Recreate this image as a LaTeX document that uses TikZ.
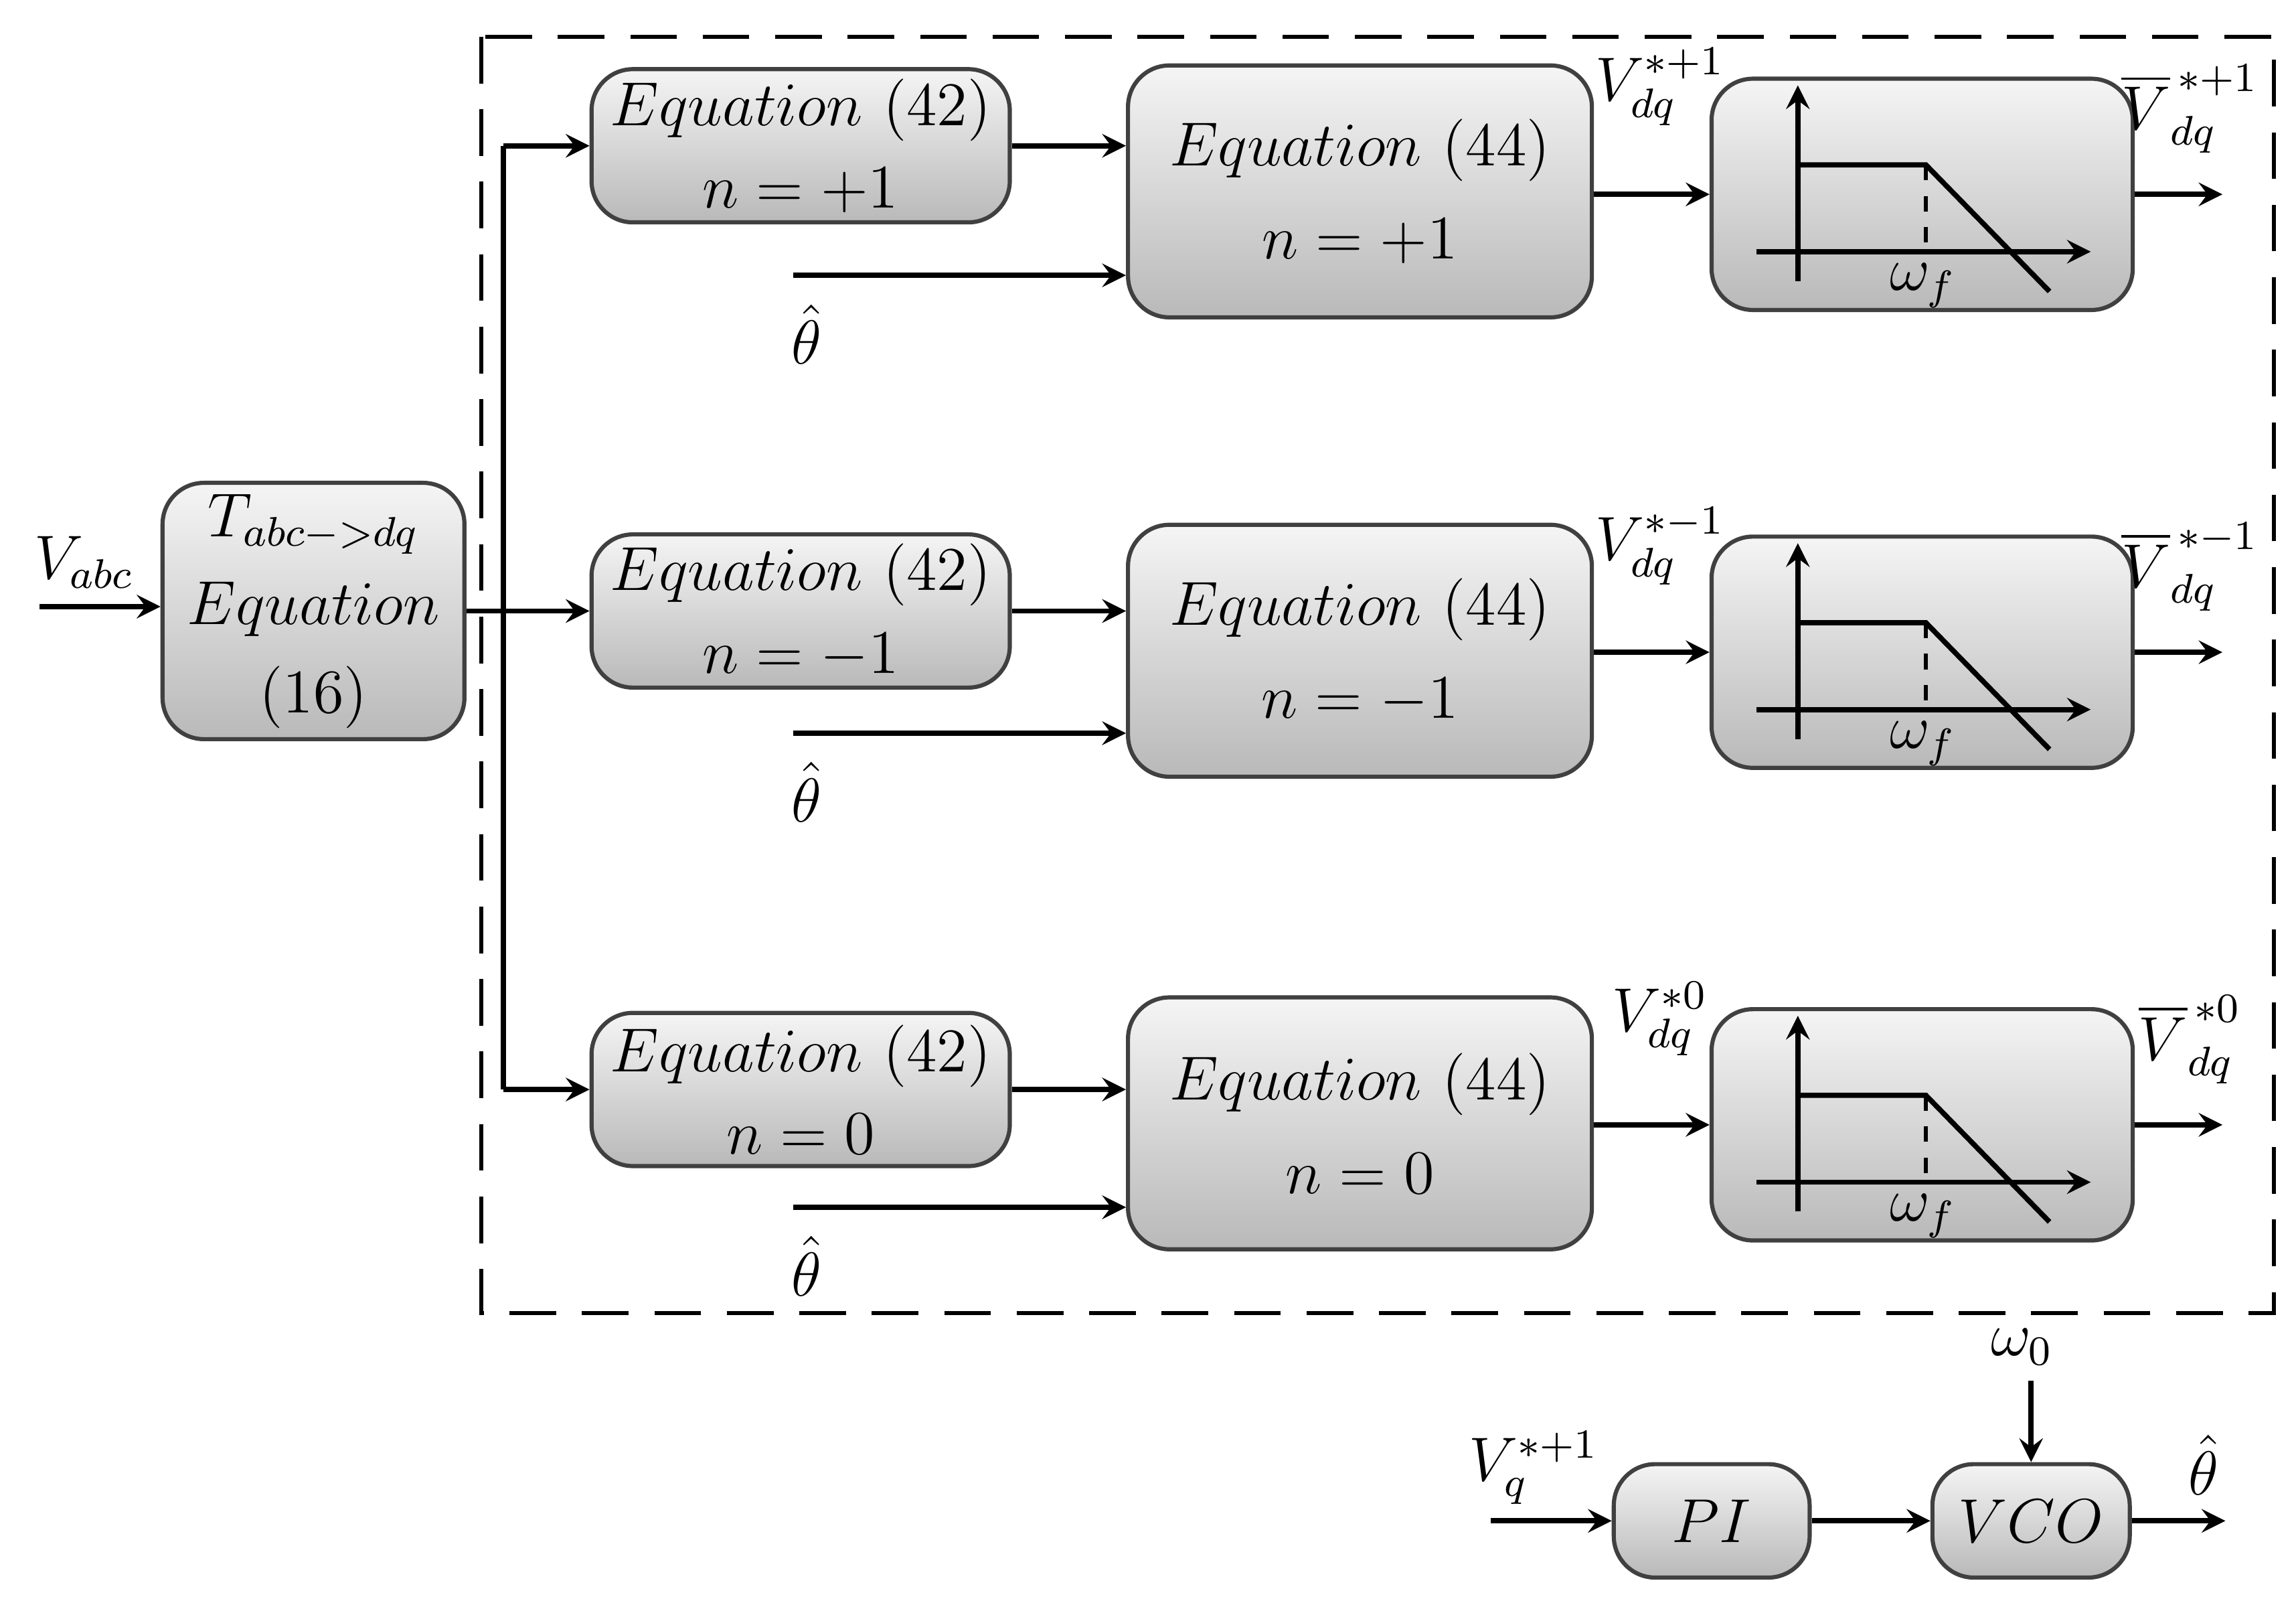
\documentclass[tikz,border=0pt]{standalone}
\usepackage{amsmath}
\usetikzlibrary{calc,positioning,arrows}
\begin{document}
\begin{tikzpicture}[x=0.01cm,y=-0.01cm,font=\large]

	\tikzstyle{block} = [rectangle, draw=gray!50!black, thick, rounded corners=8pt,
		top color=gray!8, bottom color=gray!55, align=center, inner sep=0pt]
	\tikzstyle{line} = [draw, ->, >=stealth, line width=1pt]

	\useasboundingbox (0,0) rectangle (1560,1087);

	% dashed frame
	\draw[thick, dashed, dash pattern=on 9pt off 5pt] (327,25) rectangle (1545,892);

	% transform block
	\node[block, minimum width=2.05cm, minimum height=1.74cm] (tabc) at (213,415)
		{$T_{abc->dq}$\\[3pt] $Equation$\\[3pt] $(16)$};
	\coordinate (vin) at (27,412);
	\draw[line] (vin) -- (tabc.west |- vin);
	\node at (57,382) {$V_{abc}$};
	\coordinate (split) at (342,415);
	\draw[line width=1pt] (tabc.east |- split) -- (split);

	% three branches
	\foreach \n/\lab/\ya/\yb/\yf/\yt/\sup in {1/+1/99/130/132/187/{*+1}, 2/-1/415/442/443/498/{*-1}, 3/0/740/763/764/820/{*0}} {
		\node[block, minimum width=2.84cm, minimum height=1.04cm] (eqa\n) at (544,\ya)
			{$Equation\ (42)$\\[2pt] $n=\lab$};
		\node[block, minimum width=3.15cm, minimum height=1.71cm] (eqb\n) at (924,\yb)
			{$Equation\ (44)$\\[4pt] $n=\lab$};
		\node[block, minimum width=2.86cm, minimum height=1.57cm] (flt\n) at (1306,\yf) {};
		\draw[line] (split |- eqa\n) -- (eqa\n.west);
		\draw[line] (eqa\n.east) -- (eqa\n.east -| eqb\n.west);
		\coordinate (th\n) at (539,\yt);
		\draw[line] (th\n) -- (th\n -| eqb\n.west);
		\node at ($(th\n)+(9,40)$) {$\hat{\theta}$};
		\draw[line] (eqb\n.east |- flt\n) -- (flt\n.west);
		\node at ($(eqb\n.north east)+(45,16)$) {$V_{dq}^{\sup}$};
		\coordinate (out\n) at (1510,\yf);
		\draw[line] (flt\n.east) -- (out\n);
		\node at ($(out\n)+(-22,-58)$) {$\overline{V}_{dq}^{\,\sup}$};
		% filter sketch
		\begin{scope}[shift={(flt\n.south west)}]
			\draw[line] (60,-21) -- (60,-154);
			\draw[line] (32,-41) -- (259,-41);
			\draw[line width=1pt] (60,-100) -- (147,-100) -- (231,-14);
			\draw[thick, dashed] (147,-100) -- (147,-41);
			\node at (145,-18) {$\omega_f$};
		\end{scope}
	}
	\draw[line width=1pt] (split |- eqa1) -- (split |- eqa3);

	% PLL
	\node[block, minimum width=1.33cm, minimum height=0.77cm] (pi) at (1163,1033) {$PI$};
	\node[block, minimum width=1.34cm, minimum height=0.77cm] (vco) at (1380,1033) {$VCO$};
	\coordinate (vq) at (1013,1033);
	\draw[line] (vq) -- (pi.west);
	\node at (1042,997) {$V_q^{*+1}$};
	\draw[line] (pi.east) -- (vco.west);
	\coordinate (w0) at (1380,938);
	\node at (1374,915) {$\omega_0$};
	\draw[line] (w0) -- (vco.north);
	\coordinate (thout) at (1512,1033);
	\draw[line] (vco.east) -- (thout);
	\node at (1497,995) {$\hat{\theta}$};
\end{tikzpicture}
\end{document}
